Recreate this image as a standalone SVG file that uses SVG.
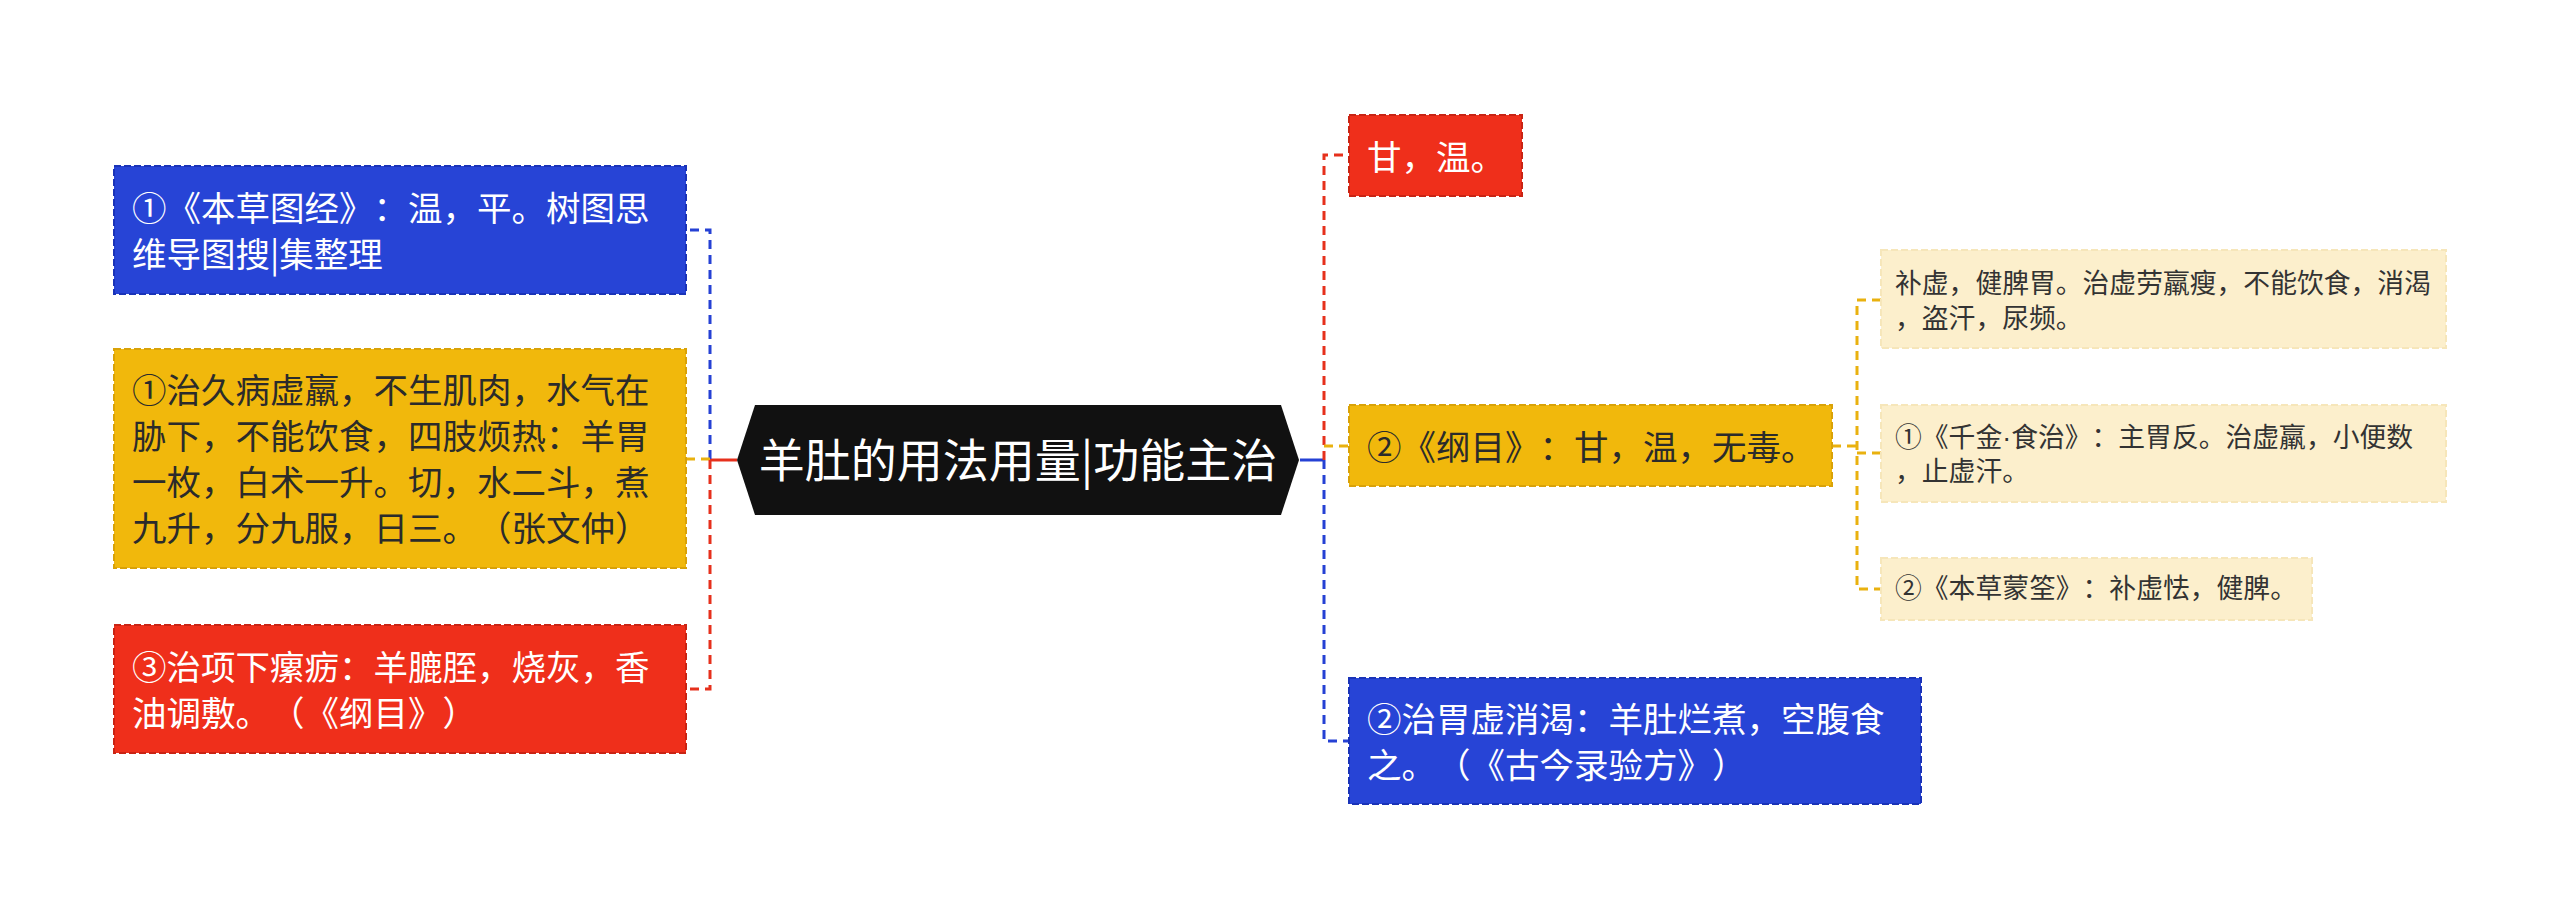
<svg xmlns="http://www.w3.org/2000/svg" width="2560" height="919" viewBox="0 0 2560 919">
<style>
text{font-family:"Noto Sans CJK SC","Microsoft YaHei",sans-serif;text-spacing-trim:space-all;font-feature-settings:"halt" 0,"chws" 0;}
.m{font-size:34.5px;}
.s{font-size:26.8px;fill:#333;}
.w{fill:#ffffff;}
.d{fill:#2b2b2b;}
.dot{font-family:"Liberation Sans",sans-serif;}
.bb{fill:#2744d6;stroke:#1a33b8;stroke-width:2;stroke-dasharray:7 3;}
.br{fill:#ef2f1b;stroke:#c92414;stroke-width:2;stroke-dasharray:7 3;}
.by{fill:#f1b80c;stroke:#d9a208;stroke-width:2;stroke-dasharray:7 3;}
.bc{fill:#fcefcc;stroke:#f6e6ba;stroke-width:2;stroke-dasharray:7 3;}
.c{fill:none;stroke-width:3;stroke-dasharray:9 6;}
.cb{stroke:#2541d4;}
.cr{stroke:#e6301c;}
.cy{stroke:#e9b10f;}
</style>
<rect width="2560" height="919" fill="#ffffff"/>
<g id="connectors">
<line x1="737" y1="460" x2="710" y2="460" stroke="#e6301c" stroke-width="3"/>
<path class="c cb" d="M710 459 V230 H686"/>
<path class="c cy" d="M710 459 H686"/>
<path class="c cr" d="M710 460 V689 H686"/>
<line x1="1300" y1="460" x2="1324" y2="460" stroke="#2541d4" stroke-width="3"/>
<path class="c cr" d="M1324 460 V155 H1349"/>
<path class="c cy" d="M1324 446 H1349"/>
<path class="c cb" d="M1324 460 V741 H1349"/>
<path class="c cy" d="M1832 446 H1857"/>
<path class="c cy" d="M1881 300 H1857 V589 H1881"/>
<path class="c cy" d="M1857 453 H1881"/>
</g>
<g id="root">
<polygon points="737,460 755,405 1281,405 1299,460 1281,515 755,515" fill="#111111"/>
<text x="1018" y="477" text-anchor="middle" font-size="46" class="w">羊肚的用法用量|功能主治</text>
</g>
<g id="node-l1">
<rect class="bb" x="114" y="166" width="572" height="128"/>
<text class="m w" x="132" y="221">①《本草图经》：温，平。树图思</text>
<text class="m w" x="132" y="267">维导图搜|集整理</text>
</g>
<g id="node-l2">
<rect class="by" x="114" y="349" width="572" height="219"/>
<text class="m d" x="132" y="403">①治久病虚羸，不生肌肉，水气在</text>
<text class="m d" x="132" y="449">胁下，不能饮食，四肢烦热：羊胃</text>
<text class="m d" x="132" y="495">一枚，白术一升。切，水二斗，煮</text>
<text class="m d" x="132" y="541">九升，分九服，日三。（张文仲）</text>
</g>
<g id="node-l3">
<rect class="br" x="114" y="625" width="572" height="128"/>
<text class="m w" x="132" y="680">③治项下瘰疬：羊膔胵，烧灰，香</text>
<text class="m w" x="132" y="726">油调敷。（《纲目》）</text>
</g>
<g id="node-r1">
<rect class="br" x="1349" y="115" width="173" height="81"/>
<text class="m w" x="1367" y="170">甘，温。</text>
</g>
<g id="node-r2">
<rect class="by" x="1349" y="405" width="483" height="81"/>
<text class="m d" x="1367" y="460">②《纲目》：甘，温，无毒。</text>
</g>
<g id="node-r2a">
<rect class="bc" x="1881" y="250" width="565" height="98"/>
<text class="s" x="1895" y="293">补虚，健脾胃。治虚劳羸瘦，不能饮食，消渴</text>
<text class="s" x="1895" y="328">，盗汗，尿频。</text>
</g>
<g id="node-r2b">
<rect class="bc" x="1881" y="405" width="565" height="97"/>
<text class="s" x="1895" y="447">①《千金<tspan class="dot">·</tspan>食治》：主胃反。治虚羸，小便数</text>
<text class="s" x="1895" y="481">，止虚汗。</text>
</g>
<g id="node-r2c">
<rect class="bc" x="1881" y="558" width="431" height="62"/>
<text class="s" x="1895" y="598">②《本草蒙筌》：补虚怯，健脾。</text>
</g>
<g id="node-r3">
<rect class="bb" x="1349" y="678" width="572" height="126"/>
<text class="m w" x="1367" y="732">②治胃虚消渴：羊肚烂煮，空腹食</text>
<text class="m w" x="1367" y="778">之。（《古今录验方》）</text>
</g>
</svg>
